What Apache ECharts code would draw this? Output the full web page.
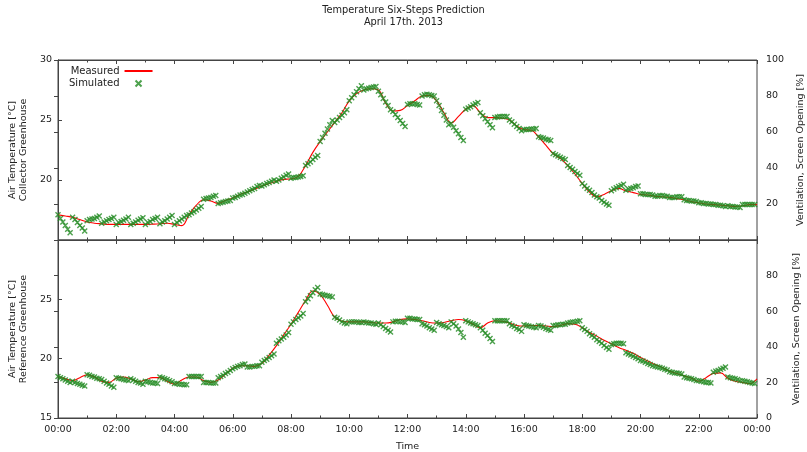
<!DOCTYPE html>
<html>
<head>
<meta charset="utf-8">
<title>Temperature Six-Steps Prediction</title>
<script src="https://cdn.jsdelivr.net/npm/echarts@6/dist/echarts.min.js"></script>
<style>
html, body { margin: 0; padding: 0; background: #fff; }
#chart { width: 807px; height: 452px; }
</style>
</head>
<body>
<div id="chart"></div>
<script>
"use strict";

// measured temperature, one value every 15 min (one row per hour), 00:00 .. 24:00
var measStep = 15;
var measCollector = [
	17.1, 17.0, 16.9, 16.7,
	16.5, 16.4, 16.35, 16.3,
	16.3, 16.3, 16.3, 16.3,
	16.3, 16.32, 16.35, 16.4,
	16.3, 16.2, 17.1, 17.9,
	18.35, 18.25, 18.05, 18.3,
	18.5, 18.8, 19.0, 19.25,
	19.5, 19.7, 19.9, 20.05,
	20.1, 20.3, 21.2, 22.3,
	23.2, 24.0, 24.8, 25.6,
	26.6, 27.2, 27.5, 27.6,
	27.5, 26.4, 25.75, 25.8,
	26.2, 26.6, 27.0, 27.05,
	26.6, 25.6, 24.75, 25.3,
	25.9, 26.2, 25.6, 25.2,
	25.2, 25.15, 25.0, 24.5,
	24.2, 24.15, 23.6, 22.9,
	22.2, 21.8, 21.2, 20.5,
	19.7, 19.0, 18.6, 18.8,
	19.1, 19.3, 19.1, 18.95,
	18.8, 18.75, 18.65, 18.6,
	18.55, 18.45, 18.35, 18.2,
	18.1, 18.0, 17.95, 17.9,
	17.85, 17.8, 17.85, 17.95,
	17.95
];
var measReference = [
	18.5, 18.3, 18.15, 18.4,
	18.65, 18.45, 18.1, 18.0,
	18.35, 18.45, 18.3, 18.05,
	18.2, 18.4, 18.4, 18.1,
	17.85, 18.2, 18.45, 18.45,
	18.15, 18.0, 18.2, 18.7,
	19.2, 19.4, 19.4, 19.35,
	19.6, 20.3, 21.1, 22.0,
	22.9, 23.9, 24.9, 25.7,
	25.4, 24.5, 23.5, 23.15,
	23.1, 23.1, 23.1, 23.05,
	23.0, 23.0, 23.1, 23.3,
	23.35, 23.3, 23.2, 23.05,
	23.0, 23.05, 23.2, 23.3,
	23.2, 22.9, 22.6, 23.0,
	23.2, 23.15, 23.0, 22.8,
	22.75, 22.8, 22.8, 22.75,
	22.7, 22.8, 22.95, 22.9,
	22.6, 22.2, 21.9, 21.55,
	21.25, 20.95, 20.7, 20.45,
	20.1, 19.8, 19.5, 19.25,
	18.95, 18.75, 18.55, 18.35,
	18.1, 18.4, 18.75, 18.8,
	18.35, 18.1, 18.0, 17.9,
	18.3
];

// six-step predictions, one value every 5 min, a new run every 30 min (one row per run)
var simStep = 5;
var simCollector = [
	17.1, 16.8, 16.5, 16.2, 15.9, 15.6,
	16.9, 16.7, 16.45, 16.2, 16.0, 15.75,
	16.6, 16.7, 16.75, 16.8, 16.9, 17.0,
	16.4, 16.5, 16.6, 16.7, 16.8, 16.9,
	16.3, 16.45, 16.55, 16.65, 16.75, 16.9,
	16.3, 16.4, 16.5, 16.65, 16.75, 16.85,
	16.3, 16.45, 16.55, 16.7, 16.8, 16.9,
	16.35, 16.5, 16.6, 16.75, 16.9, 17.05,
	16.3, 16.45, 16.6, 16.75, 16.9, 17.05,
	17.1, 17.25, 17.35, 17.5, 17.65, 17.8,
	18.4, 18.45, 18.5, 18.55, 18.65, 18.7,
	18.05, 18.1, 18.15, 18.2, 18.25, 18.3,
	18.5, 18.55, 18.65, 18.75, 18.8, 18.9,
	19.0, 19.1, 19.2, 19.3, 19.45, 19.55,
	19.5, 19.6, 19.7, 19.8, 19.9, 20.0,
	19.9, 20.0, 20.15, 20.25, 20.4, 20.5,
	20.15, 20.2, 20.2, 20.25, 20.3, 20.35,
	21.2, 21.35, 21.5, 21.7, 21.9, 22.05,
	23.2, 23.55, 23.9, 24.25, 24.6, 24.95,
	24.8, 25.0, 25.2, 25.4, 25.6, 25.85,
	26.6, 26.85, 27.1, 27.35, 27.6, 27.85,
	27.5, 27.6, 27.65, 27.7, 27.75, 27.8,
	27.4, 27.1, 26.8, 26.5, 26.2, 25.85,
	25.7, 25.45, 25.2, 24.95, 24.7, 24.45,
	26.3, 26.35, 26.35, 26.35, 26.3, 26.25,
	27.0, 27.1, 27.15, 27.1, 27.05, 27.0,
	26.6, 26.2, 25.8, 25.4, 25.0, 24.6,
	24.7, 24.4, 24.1, 23.85, 23.55, 23.3,
	25.9, 26.0, 26.1, 26.25, 26.35, 26.45,
	25.6, 25.35, 25.1, 24.85, 24.6, 24.35,
	25.2, 25.25, 25.3, 25.3, 25.3, 25.3,
	25.0, 24.85, 24.65, 24.45, 24.3, 24.1,
	24.2, 24.2, 24.2, 24.25, 24.25, 24.3,
	23.6, 23.55, 23.5, 23.4, 23.35, 23.3,
	22.2, 22.1, 22.0, 21.9, 21.8, 21.7,
	21.2, 21.05, 20.9, 20.7, 20.55, 20.4,
	19.7, 19.5, 19.3, 19.15, 18.95, 18.75,
	18.6, 18.5, 18.3, 18.15, 18.0, 17.9,
	19.1, 19.25, 19.35, 19.45, 19.55, 19.65,
	19.15, 19.25, 19.3, 19.35, 19.45, 19.5,
	18.85, 18.85, 18.8, 18.8, 18.8, 18.75,
	18.65, 18.65, 18.7, 18.7, 18.65, 18.65,
	18.55, 18.55, 18.55, 18.6, 18.6, 18.6,
	18.35, 18.3, 18.3, 18.25, 18.25, 18.2,
	18.1, 18.1, 18.05, 18.05, 18.0, 18.0,
	17.95, 17.95, 17.9, 17.9, 17.85, 17.8,
	17.85, 17.8, 17.8, 17.75, 17.75, 17.7,
	17.95, 17.95, 17.95, 17.95, 17.95, 17.95
];
var simReference = [
	18.5, 18.4, 18.3, 18.2, 18.1, 18.0,
	18.1, 18.0, 17.9, 17.85, 17.75, 17.7,
	18.65, 18.6, 18.5, 18.45, 18.35, 18.3,
	18.25, 18.1, 17.95, 17.85, 17.7, 17.6,
	18.4, 18.35, 18.3, 18.25, 18.2, 18.15,
	18.3, 18.2, 18.1, 18.0, 17.95, 17.85,
	18.1, 18.05, 18.0, 17.95, 17.95, 17.9,
	18.45, 18.4, 18.3, 18.25, 18.15, 18.05,
	17.9, 17.9, 17.85, 17.85, 17.8, 17.8,
	18.5, 18.5, 18.5, 18.5, 18.5, 18.5,
	18.0, 18.0, 18.0, 17.95, 17.95, 17.95,
	18.4, 18.5, 18.6, 18.75, 18.85, 19.0,
	19.15, 19.25, 19.35, 19.4, 19.5, 19.55,
	19.3, 19.3, 19.35, 19.35, 19.4, 19.4,
	19.7, 19.85, 19.95, 20.1, 20.25, 20.4,
	21.3, 21.5, 21.65, 21.8, 22.0, 22.2,
	22.9, 23.1, 23.3, 23.45, 23.6, 23.8,
	24.8, 25.05, 25.3, 25.55, 25.8, 26.0,
	25.45, 25.4, 25.35, 25.3, 25.25, 25.2,
	23.5, 23.4, 23.25, 23.1, 23.0, 22.95,
	23.1, 23.1, 23.1, 23.1, 23.05, 23.05,
	23.1, 23.05, 23.0, 23.0, 22.95, 22.9,
	23.0, 22.85, 22.7, 22.55, 22.4, 22.25,
	23.1, 23.15, 23.15, 23.1, 23.1, 23.05,
	23.4, 23.4, 23.35, 23.35, 23.3, 23.3,
	22.95, 22.85, 22.75, 22.6, 22.5, 22.4,
	23.05, 22.95, 22.85, 22.8, 22.7, 22.6,
	23.1, 22.95, 22.75, 22.5, 22.2, 21.8,
	23.2, 23.1, 23.0, 22.95, 22.85, 22.8,
	22.6, 22.4, 22.15, 21.95, 21.7, 21.45,
	23.2, 23.2, 23.2, 23.2, 23.2, 23.2,
	22.95, 22.8, 22.7, 22.55, 22.45, 22.3,
	22.85, 22.8, 22.75, 22.7, 22.65, 22.6,
	22.8, 22.75, 22.65, 22.55, 22.45, 22.4,
	22.8, 22.8, 22.85, 22.85, 22.9, 22.9,
	23.0, 23.05, 23.1, 23.1, 23.15, 23.2,
	22.6, 22.45, 22.3, 22.1, 21.95, 21.8,
	21.6, 21.45, 21.3, 21.1, 20.95, 20.8,
	21.2, 21.25, 21.3, 21.3, 21.3, 21.25,
	20.5, 20.4, 20.3, 20.2, 20.1, 20.0,
	19.85, 19.8, 19.7, 19.6, 19.5, 19.4,
	19.35, 19.3, 19.25, 19.2, 19.1, 19.05,
	18.9, 18.85, 18.8, 18.8, 18.75, 18.7,
	18.45, 18.4, 18.35, 18.3, 18.25, 18.15,
	18.15, 18.1, 18.05, 18.0, 18.0, 17.95,
	18.85, 18.95, 19.0, 19.1, 19.2, 19.3,
	18.45, 18.4, 18.35, 18.3, 18.25, 18.15,
	18.15, 18.1, 18.05, 18.0, 17.95, 17.9
];

var timeTicks = ['00:00', '02:00', '04:00', '06:00', '08:00', '10:00', '12:00',
	'14:00', '16:00', '18:00', '20:00', '22:00', '00:00'];

var fontFamily = 'DejaVu Sans';
var fontSize = 9.5;
var textColor = '#222';
var axisColor = '#444';
var lineColor = '#ff0000';
var crossColor = '#208a20';
var crossPath = 'path://M0,0L10,10M10,0L0,10';

function pairs(values, step) {
	var result = [];
	for (var i = 0; i < values.length; i++) {
		result.push([i * step, values[i]]);
	}
	return result;
}

function xAxis(gridIndex, position, withLabels) {
	return {
		type: 'value',
		gridIndex: gridIndex,
		position: position,
		min: 0,
		max: 1440,
		interval: 120,
		name: withLabels ? 'Time' : '',
		nameLocation: 'middle',
		nameGap: 24,
		nameTextStyle: { fontFamily: fontFamily, fontSize: fontSize, color: textColor },
		axisLine: { show: true, lineStyle: { color: axisColor, width: 1 } },
		axisTick: { show: true, inside: true, length: 4, lineStyle: { color: axisColor } },
		minorTick: { show: true, splitNumber: 2, length: 2.5, lineStyle: { color: axisColor } },
		splitLine: { show: false },
		axisLabel: {
			show: withLabels,
			margin: 7,
			fontFamily: fontFamily,
			fontSize: fontSize,
			color: textColor,
			formatter: function(v) { return timeTicks[Math.round(v / 120)]; }
		}
	};
}

function yAxis(gridIndex, position, min, max, interval, hide, name, nameGap, margin) {
	return {
		type: 'value',
		gridIndex: gridIndex,
		position: position,
		min: min,
		max: max,
		interval: interval,
		name: name,
		nameLocation: 'middle',
		nameRotate: 90,
		nameGap: nameGap,
		nameTextStyle: { fontFamily: fontFamily, fontSize: fontSize, color: textColor, lineHeight: 11 },
		axisLine: { show: true, lineStyle: { color: axisColor, width: 1 } },
		axisTick: { show: true, inside: true, length: 4, lineStyle: { color: axisColor } },
		splitLine: { show: false },
		axisLabel: {
			margin: margin,
			fontFamily: fontFamily,
			fontSize: fontSize,
			color: textColor,
			formatter: function(v) { return v === hide ? '' : String(v); }
		}
	};
}

var myChart = echarts.init(document.getElementById('chart'), null, { renderer: 'canvas' });

myChart.setOption({
	animation: false,
	backgroundColor: '#fff',
	title: {
		text: 'Temperature Six-Steps Prediction',
		subtext: 'April 17th. 2013',
		left: 'center',
		top: 0,
		itemGap: 2,
		textStyle: { fontFamily: fontFamily, fontSize: 9.8, fontWeight: 'normal', color: textColor },
		subtextStyle: { fontFamily: fontFamily, fontSize: 9.8, color: textColor }
	},
	legend: {
		orient: 'vertical',
		left: 64,
		top: 61,
		align: 'right',
		itemGap: 2,
		itemWidth: 28,
		itemHeight: 6,
		selectedMode: false,
		textStyle: { fontFamily: fontFamily, fontSize: 10, color: textColor },
		data: [
			{ name: 'Measured', itemStyle: { opacity: 0 } },
			{ name: 'Simulated', icon: crossPath }
		]
	},
	grid: [
		{ left: 58, right: 50, top: 60, height: 180, show: true, borderColor: axisColor, borderWidth: 1, outerBoundsMode: 'none' },
		{ left: 58, right: 50, top: 240, height: 178, show: true, borderColor: axisColor, borderWidth: 1, outerBoundsMode: 'none' }
	],
	xAxis: [
		xAxis(0, 'bottom', false),
		xAxis(0, 'top', false),
		xAxis(1, 'bottom', true),
		xAxis(1, 'top', false)
	],
	yAxis: [
		yAxis(0, 'left', 15, 30, 5, 15, 'Air Temperature [°C]\nCollector Greenhouse', 27, 6),
		yAxis(0, 'right', 0, 100, 20, 0, 'Ventilation, Screen Opening [%]', 34, 9),
		yAxis(1, 'left', 15, 30, 5, 30, 'Air Temperature [°C]\nReference Greenhouse', 27, 6),
		yAxis(1, 'right', 0, 100, 20, 100, 'Ventilation, Screen Opening [%]', 34, 9)
	],
	series: [
		{
			name: 'Measured', type: 'line', xAxisIndex: 0, yAxisIndex: 0,
			data: pairs(measCollector, measStep), smooth: 0.4, showSymbol: false, symbol: 'none',
			lineStyle: { color: lineColor, width: 1.1 }, itemStyle: { color: lineColor }, z: 2
		},
		{
			name: 'Simulated', type: 'scatter', xAxisIndex: 0, yAxisIndex: 0,
			data: pairs(simCollector, simStep), symbol: crossPath, symbolSize: 5,
			itemStyle: { color: 'none', borderColor: crossColor, borderWidth: 1.4 }, z: 3
		},
		{
			name: 'Measured', type: 'line', xAxisIndex: 2, yAxisIndex: 2,
			data: pairs(measReference, measStep), smooth: 0.4, showSymbol: false, symbol: 'none',
			lineStyle: { color: lineColor, width: 1.1 }, itemStyle: { color: lineColor }, z: 2
		},
		{
			name: 'Simulated', type: 'scatter', xAxisIndex: 2, yAxisIndex: 2,
			data: pairs(simReference, simStep), symbol: crossPath, symbolSize: 5,
			itemStyle: { color: 'none', borderColor: crossColor, borderWidth: 1.4 }, z: 3
		}
	]
});
</script>
</body>
</html>
